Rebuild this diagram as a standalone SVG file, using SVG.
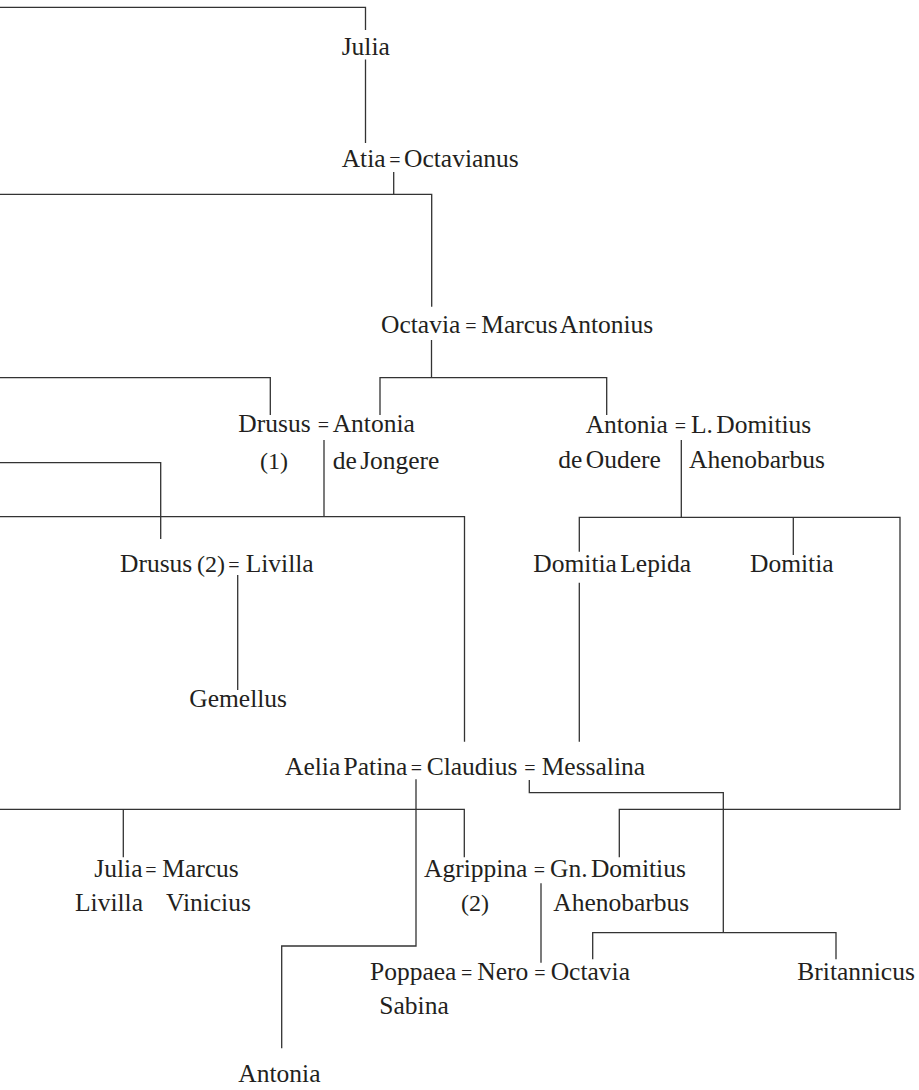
<svg xmlns="http://www.w3.org/2000/svg" width="919" height="1090" viewBox="0 0 919 1090">
<style>
  text { font-family: "Liberation Serif", "Times New Roman", serif; font-size: 25.5px; fill: #231f20; word-spacing: -3px; }
  text.eq { font-size: 20px; text-anchor: middle; }
  text.num { font-size: 24px; }
  .conn path { fill: none; stroke: #333; stroke-width: 1.3; }
</style>
<rect width="919" height="1090" fill="#ffffff"/>
<g class="conn" id="connectors">
  <path d="M0,7.3 H365.5 V30"/>
  <path d="M365.5,59.5 V143"/>
  <path d="M393.7,172 V194.3"/>
  <path d="M0,194.3 H431.7 V306.7"/>
  <path d="M431.5,340 V377.7"/>
  <path d="M380,415 V377.7 H606.7 V415"/>
  <path d="M0,377.7 H270.3 V415"/>
  <path d="M0,462.7 H160.7 V539"/>
  <path d="M324,440 V516.7"/>
  <path d="M0,516.7 H464.5 V741.7"/>
  <path d="M681.3,440 V517.3"/>
  <path d="M579.3,551.7 V517.3 H900 V809.3 H619.3 V857.3"/>
  <path d="M793.3,517.3 V555"/>
  <path d="M579.3,582.7 V741.7"/>
  <path d="M237.7,575 V690"/>
  <path d="M529.3,780 V792.7 H723.3 V932.7"/>
  <path d="M592.7,959.3 V932.7 H836 V959.3"/>
  <path d="M416,779.3 V946 H281.7 V1048.3"/>
  <path d="M0,809.3 H464.3 V857.3"/>
  <path d="M123.3,809.3 V857.3"/>
  <path d="M541,883.3 V962.7"/>
</g>
<g id="julia-top"><text x="341.7" y="55">Julia</text></g>
<g id="atia-octavianus">
  <text x="341.7" y="166.7">Atia</text><text class="eq" x="395" y="166.7">=</text><text x="404" y="166.7">Octavianus</text>
</g>
<g id="octavia-antonius">
  <text x="381" y="333.3">Octavia</text><text class="eq" x="471" y="333.3">=</text><text x="481.3" y="333.3">Marcus Antonius</text>
</g>
<g id="drusus-antonia">
  <text x="238.3" y="432.3">Drusus</text><text class="eq" x="323.5" y="432.3">=</text><text x="332.7" y="432.3">Antonia</text>
  <text class="num" x="260" y="468.5">(1)</text><text x="332.7" y="468.5">de Jongere</text>
</g>
<g id="antonia-domitius">
  <text x="585.7" y="432.7">Antonia</text><text class="eq" x="680.5" y="432.7">=</text><text x="691" y="432.7">L. Domitius</text>
  <text x="558.3" y="467.5">de Oudere</text><text x="689" y="467.5">Ahenobarbus</text>
</g>
<g id="drusus2-livilla">
  <text x="120" y="571.7">Drusus</text><text class="num" x="197" y="571.7">(2)</text><text class="eq" x="234" y="571.7">=</text><text x="245.7" y="571.7">Livilla</text>
</g>
<g id="domitia-lepida"><text x="533.3" y="571.7">Domitia Lepida</text></g>
<g id="domitia"><text x="750" y="571.7">Domitia</text></g>
<g id="gemellus"><text x="189.3" y="707">Gemellus</text></g>
<g id="claudius">
  <text x="285" y="775">Aelia Patina</text><text class="eq" x="416.5" y="775">=</text><text x="426.7" y="775">Claudius</text><text class="eq" x="530" y="775">=</text><text x="541.7" y="775">Messalina</text>
</g>
<g id="julia-livilla-vinicius">
  <text x="94.3" y="876.7">Julia</text><text class="eq" x="151" y="876.7">=</text><text x="162.3" y="876.7">Marcus</text>
  <text x="75" y="911">Livilla</text><text x="166" y="911">Vinicius</text>
</g>
<g id="agrippina-domitius">
  <text x="424" y="876.7">Agrippina</text><text class="eq" x="539.3" y="876.7">=</text><text x="550" y="876.7">Gn. Domitius</text>
  <text class="num" x="461" y="911">(2)</text><text x="553.3" y="911">Ahenobarbus</text>
</g>
<g id="nero">
  <text x="370" y="980">Poppaea</text><text class="eq" x="466.7" y="980">=</text><text x="477.3" y="980">Nero</text><text class="eq" x="540" y="980">=</text><text x="550.7" y="980">Octavia</text>
  <text x="379.3" y="1014">Sabina</text>
</g>
<g id="britannicus"><text x="797.3" y="980">Britannicus</text></g>
<g id="antonia-bottom"><text x="238.3" y="1081.7">Antonia</text></g>
</svg>
